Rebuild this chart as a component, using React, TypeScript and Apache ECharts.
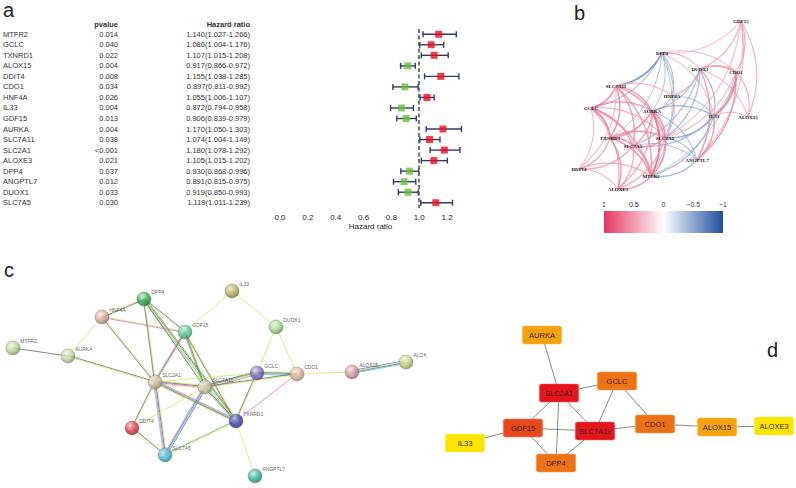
import React, { useEffect, useRef } from "react";
import * as echarts from "echarts";

// ---------- Panel a: forest plot ----------
const genes = ["MTFR2","GCLC","TXNRD1","ALOX15","DDIT4","CDO1","HNF4A","IL33","GDF15","AURKA","SLC7A11","SLC2A1","ALOXE3","DPP4","ANGPTL7","DUOX1","SLC7A5"];
const pvalues = ["0.014","0.040","0.022","0.004","0.008","0.034","0.026","0.004","0.013","0.004","0.038","<0.001","0.021","0.037","0.012","0.033","0.030"];
const hazardRatio = [1.140,1.086,1.107,0.917,1.155,0.897,1.055,0.872,0.906,1.170,1.074,1.180,1.105,0.930,0.891,0.919,1.119];
const hrLower = [1.027,1.004,1.015,0.866,1.038,0.811,1.006,0.794,0.839,1.050,1.004,1.078,1.015,0.868,0.815,0.850,1.011];
const hrUpper = [1.266,1.176,1.208,0.972,1.285,0.992,1.107,0.958,0.979,1.303,1.149,1.292,1.202,0.996,0.975,0.993,1.239];
const hrTicks = [0, 0.2, 0.4, 0.6, 0.8, 1.0, 1.2];

// ---------- Panel b: correlation network ----------
const corrNodes = ["GDF15","DPP4","DUOX1","CDO1","SLC7A11","HNF4A","GCLC","AURKA","IL33","ALOX15","TXNRD1","SLC2A1","SLC7A5","ANGPTL7","DDIT4","MTFR2","ALOXE3"];
const corrNodeX = [741,662,700,736,616,672,591,652,714,748,610,665,633,697,579,651,618];
const corrNodeY = [21,53,69,72,86,96,108,111,116,117,138,138,146,160,169,176,189];
const corrEdges: [string, string, number][] = [
  ["GDF15","DPP4",0.3],["GDF15","DUOX1",0.35],["GDF15","CDO1",0.4],["GDF15","ALOX15",0.35],["GDF15","IL33",0.3],["GDF15","SLC2A1",0.3],["GDF15","ANGPTL7",0.3],
  ["DPP4","SLC7A11",-0.6],["DPP4","GCLC",-0.3],["DPP4","HNF4A",-0.3],["DPP4","AURKA",-0.25],["DPP4","SLC2A1",-0.3],["DPP4","IL33",0.3],["DPP4","CDO1",0.3],["DPP4","DUOX1",0.3],["DPP4","TXNRD1",-0.25],["DPP4","MTFR2",-0.25],
  ["DUOX1","CDO1",0.5],["DUOX1","HNF4A",0.4],["DUOX1","IL33",-0.35],["DUOX1","SLC2A1",-0.35],["DUOX1","ANGPTL7",0.5],["DUOX1","ALOX15",0.3],["DUOX1","SLC7A5",-0.3],["DUOX1","AURKA",-0.3],
  ["CDO1","IL33",0.7],["CDO1","ALOX15",0.35],["CDO1","ANGPTL7",0.5],["CDO1","SLC2A1",0.3],["CDO1","MTFR2",-0.25],
  ["SLC7A11","GCLC",0.6],["SLC7A11","TXNRD1",0.55],["SLC7A11","AURKA",0.5],["SLC7A11","SLC2A1",0.5],["SLC7A11","SLC7A5",0.5],["SLC7A11","HNF4A",0.3],["SLC7A11","MTFR2",0.5],["SLC7A11","DDIT4",0.3],
  ["HNF4A","AURKA",0.35],["HNF4A","IL33",-0.3],["HNF4A","SLC2A1",0.3],
  ["GCLC","TXNRD1",0.7],["GCLC","AURKA",0.5],["GCLC","SLC7A5",0.5],["GCLC","DDIT4",0.3],["GCLC","ALOXE3",0.4],["GCLC","SLC2A1",0.4],["GCLC","MTFR2",0.45],
  ["AURKA","SLC2A1",0.6],["AURKA","MTFR2",0.8],["AURKA","TXNRD1",0.55],["AURKA","SLC7A5",0.5],["AURKA","IL33",-0.4],["AURKA","ANGPTL7",-0.3],["AURKA","ALOXE3",0.4],
  ["IL33","SLC2A1",-0.45],["IL33","ANGPTL7",0.5],["IL33","ALOX15",0.3],["IL33","MTFR2",-0.35],["IL33","SLC7A5",-0.3],
  ["TXNRD1","SLC7A5",0.6],["TXNRD1","SLC2A1",0.5],["TXNRD1","DDIT4",0.4],["TXNRD1","MTFR2",0.6],["TXNRD1","ALOXE3",0.5],
  ["SLC2A1","SLC7A5",0.55],["SLC2A1","MTFR2",0.6],["SLC2A1","ANGPTL7",-0.35],["SLC2A1","ALOXE3",0.4],
  ["SLC7A5","MTFR2",0.5],["SLC7A5","DDIT4",0.4],["SLC7A5","ALOXE3",0.4],["SLC7A5","ANGPTL7",-0.3],
  ["ANGPTL7","MTFR2",-0.35],["DDIT4","ALOXE3",0.35],["DDIT4","MTFR2",0.4],["MTFR2","ALOXE3",0.5],
];
const colorbarTicks = [1, 0.5, 0, -0.5, -1];

// ---------- Panel c: STRING PPI network ----------
const stringNodes = ["MTFR2","AURKA","HNF4A","DPP4","GDF15","IL33","DUOX1","GCLC","CDO1","ALOX15","ALOX","SLC2A1","SLC7A11","TXNRD1","DDIT4","SLC7A5","ANGPTL7"];
const stringNodeX = [13,68,102,144,185,232,276,257,297,352,406,155,205,236,132,165,255];
const stringNodeY = [348,356,317,299,332,291,327,373,374,372,362,382,387,421,428,455,476];
const stringNodeColor = ["#b5d88a","#bfd99a","#d6a89c","#2ea84a","#58c89c","#b2ab58","#9dd78c","#7468c4","#e0b292","#d6909c","#c4d07a","#d6c6a0","#dac8a6","#3636ae","#de2f3f","#48b6d6","#2cae9e"];
const evidenceCodes = ["y","k","p","g","b","c","l"];
const evidenceColors = ["#cde457","#555555","#d060c8","#48a860","#4a5ad2","#50c4d8","#a896dc"];
const stringEdges: [string, string, string][] = [
  ["MTFR2","AURKA","k"],["AURKA","HNF4A","y"],["AURKA","SLC2A1","ky"],
  ["HNF4A","DPP4","yk"],["HNF4A","GDF15","yp"],["HNF4A","SLC2A1","yk"],
  ["DPP4","GDF15","ky"],["DPP4","TXNRD1","gkyc"],["DPP4","SLC2A1","yk"],["DPP4","SLC7A11","yk"],
  ["GDF15","IL33","y"],["GDF15","SLC2A1","ykp"],["GDF15","SLC7A11","ykg"],["GDF15","TXNRD1","yk"],
  ["IL33","DUOX1","y"],["DUOX1","GCLC","y"],["DUOX1","CDO1","y"],
  ["GCLC","SLC7A11","pygk"],["GCLC","CDO1","ykgc"],["GCLC","TXNRD1","yk"],["GCLC","SLC2A1","y"],
  ["CDO1","SLC7A11","yk"],["CDO1","TXNRD1","p"],["CDO1","ALOX15","y"],["ALOX15","ALOX","bykc"],
  ["SLC2A1","SLC7A11","ykpy"],["SLC2A1","TXNRD1","pgky"],["SLC2A1","DDIT4","yk"],["SLC2A1","SLC7A5","ykpc"],
  ["SLC7A11","TXNRD1","ykg"],["SLC7A11","SLC7A5","bckl"],["SLC7A11","DDIT4","y"],
  ["DDIT4","SLC7A5","ky"],["SLC7A5","TXNRD1","gy"],["TXNRD1","ANGPTL7","y"],
];

// ---------- Panel d: hub gene network ----------
const hubNodes = ["AURKA","SLC2A1","GCLC","GDF15","SLC7A11","IL33","DPP4","CDO1","ALOX15","ALOXE3"];
const hubNodeX = [542,559,617,523,595,465,556,655,717,774];
const hubNodeY = [335,393,381,428,431,443,463,424,427,426];
const hubNodeColor = ["#f5a10e","#e5141c","#ee7314","#e8471c","#e5141c","#fde400","#ee7214","#ec7114","#f6a20e","#fde400"];
const hubEdges: [string, string][] = [
  ["AURKA","SLC2A1"],["SLC2A1","GCLC"],["SLC2A1","GDF15"],["SLC2A1","DPP4"],["SLC2A1","SLC7A11"],
  ["GDF15","IL33"],["GDF15","SLC7A11"],["GDF15","DPP4"],["DPP4","SLC7A11"],["SLC7A11","GCLC"],
  ["GCLC","CDO1"],["SLC7A11","CDO1"],["CDO1","ALOX15"],["ALOX15","ALOXE3"],
];

const SANS = "Liberation Sans, Arial, sans-serif";
const BOX = "path://M2,0H37Q39,0 39,2V16Q39,18 37,18H2Q0,18 0,16V2Q0,0 2,0Z";

function hexRgb(h: string) {
  const v = parseInt(h.slice(1), 16);
  return [(v >> 16) & 255, (v >> 8) & 255, v & 255];
}
function mix(a: string, b: string, t: number) {
  const A = hexRgb(a), B = hexRgb(b);
  const c = A.map((x, i) => Math.round(x + (B[i] - x) * t));
  return `rgb(${c[0]},${c[1]},${c[2]})`;
}
const RED = "#e4375f";
const BLUE = "#1f4e9f";
function corrColor(r: number) {
  return r >= 0 ? mix("#ffffff", RED, 0.25 + 0.75 * r) : mix("#ffffff", BLUE, 0.25 + 0.75 * -r);
}
function sphere(c: string) {
  return new echarts.graphic.RadialGradient(0.38, 0.32, 0.72, [
    { offset: 0, color: mix(c, "#ffffff", 0.75) },
    { offset: 0.55, color: c },
    { offset: 1, color: mix(c, "#000000", 0.35) },
  ]);
}

export default function App() {
  const ref = useRef<HTMLDivElement>(null);
  useEffect(() => {
    if (!ref.current) return;
    const chart = echarts.init(ref.current, null, { renderer: "svg" });
    const hrText = hazardRatio.map((v, i) => `${v.toFixed(3)}(${hrLower[i].toFixed(3)}-${hrUpper[i].toFixed(3)})`);
    const rowText = { fontSize: 7.5, color: "#333", fontFamily: SANS };

    const stringEdgeData: number[][] = [];
    stringEdges.forEach(([a, b, codes]) => {
      const si = stringNodes.indexOf(a), ti = stringNodes.indexOf(b);
      for (let j = 0; j < codes.length; j++) stringEdgeData.push([si, ti, j, codes.length, evidenceCodes.indexOf(codes[j])]);
    });

    const cbX0 = 604, cbW = 119;
    const option: any = {
      animation: false,
      backgroundColor: "#ffffff",
      grid: [
        { left: 280, top: 29, width: 181, height: 179 },
        { left: 0, top: 0, width: 796, height: 488 },
      ],
      xAxis: [
        {
          gridIndex: 0, type: "value", min: 0, max: 1.3, interval: 0.2,
          splitLine: { show: false },
          axisLine: { lineStyle: { color: "#222", width: 1 } },
          axisTick: { length: 4, customValues: hrTicks, lineStyle: { color: "#222" } },
          axisLabel: { customValues: hrTicks, formatter: (v: number) => v.toFixed(1), fontSize: 8, color: "#222", margin: 5, fontFamily: SANS },
          name: "Hazard ratio", nameLocation: "middle", nameGap: 14,
          nameTextStyle: { fontSize: 8, color: "#222", fontFamily: SANS },
        },
        { gridIndex: 1, type: "value", min: 0, max: 796, show: false },
      ],
      yAxis: [
        {
          gridIndex: 0, type: "category", data: genes, inverse: true,
          axisLine: { show: false }, axisTick: { show: false }, splitLine: { show: false },
          axisLabel: {
            interval: 0, align: "left", margin: 277,
            formatter: (v: string, i: number) => `{n|${v}}{p|${pvalues[i]}}{h|${hrText[i]}}`,
            rich: {
              n: { ...rowText, width: 82, align: "left" },
              p: { ...rowText, width: 33, align: "right" },
              h: { ...rowText, width: 132, align: "right" },
            },
          },
        },
        { gridIndex: 1, type: "value", min: 0, max: 488, inverse: true, show: false },
      ],
      series: [
        {
          type: "custom", xAxisIndex: 0, yAxisIndex: 0,
          data: genes.map((g, i) => [hrLower[i], i, hrUpper[i]]),
          encode: { x: [0, 2], y: 1 },
          renderItem: (params: any, api: any) => {
            const lo = api.coord([api.value(0), api.value(1)]);
            const hi = api.coord([api.value(2), api.value(1)]);
            const h = 3;
            const style = { stroke: "#2f3b6c", lineWidth: 1.4 };
            return {
              type: "group",
              children: [
                { type: "line", shape: { x1: lo[0], y1: lo[1], x2: hi[0], y2: hi[1] }, style },
                { type: "line", shape: { x1: lo[0], y1: lo[1] - h, x2: lo[0], y2: lo[1] + h }, style },
                { type: "line", shape: { x1: hi[0], y1: hi[1] - h, x2: hi[0], y2: hi[1] + h }, style },
              ],
            };
          },
          z: 2,
        },
        {
          type: "scatter", xAxisIndex: 0, yAxisIndex: 0, symbol: "rect", symbolSize: 7,
          data: hazardRatio.map((v, i) => ({ value: [v, i], itemStyle: { color: v > 1 ? "#ec0c1c" : "#6cbd3a" } })),
          z: 4,
          markLine: {
            silent: true, symbol: ["none", "none"], label: { show: false },
            lineStyle: { type: [4, 2.5], color: "#555", width: 1.6 },
            data: [{ xAxis: 1 }],
          },
        },
        // panel b
        {
          type: "graph", layout: "none", coordinateSystem: "cartesian2d", xAxisIndex: 1, yAxisIndex: 1,
          symbol: "circle", symbolSize: 1, itemStyle: { color: "rgba(0,0,0,0)" },
          label: { show: true, position: "inside", fontSize: 5, fontFamily: "Liberation Serif, serif", fontWeight: "bold", color: "#111" },
          data: corrNodes.map((n, i) => ({ name: n, value: [corrNodeX[i], corrNodeY[i]] })),
          links: corrEdges.map(([a, b, r]) => ({
            source: corrNodes.indexOf(a), target: corrNodes.indexOf(b),
            lineStyle: { color: corrColor(r), width: 0.5 + 2 * Math.abs(r), opacity: 0.75, curveness: 0.25 },
          })),
          lineStyle: { curveness: 0.25 },
          z: 2,
        },
        // panel c edges
        {
          type: "custom", xAxisIndex: 1, yAxisIndex: 1, data: stringEdgeData,
          renderItem: (params: any, api: any) => {
            const si = api.value(0), ti = api.value(1), j = api.value(2), n = api.value(3), k = api.value(4);
            const p1 = api.coord([stringNodeX[si], stringNodeY[si]]);
            const p2 = api.coord([stringNodeX[ti], stringNodeY[ti]]);
            const dx = p2[0] - p1[0], dy = p2[1] - p1[1];
            const L = Math.hypot(dx, dy) || 1;
            const nx = -dy / L, ny = dx / L;
            const off = (j - (n - 1) / 2) * 1.0;
            return {
              type: "line",
              shape: { x1: p1[0] + nx * off, y1: p1[1] + ny * off, x2: p2[0] + nx * off, y2: p2[1] + ny * off },
              style: { stroke: evidenceColors[k], lineWidth: 0.7 },
            };
          },
          z: 2,
        },
        // panel c nodes
        {
          type: "scatter", xAxisIndex: 1, yAxisIndex: 1, symbolSize: 14,
          data: stringNodes.map((n, i) => ({
            name: n, value: [stringNodeX[i], stringNodeY[i]],
            itemStyle: { color: sphere(stringNodeColor[i]), borderColor: "#777", borderWidth: 0.5 },
          })),
          label: { show: true, formatter: "{b}", position: "right", distance: 0, offset: [0, -7], fontSize: 5, color: "#333", fontFamily: SANS },
          z: 4,
        },
        // panel d
        {
          type: "graph", layout: "none", coordinateSystem: "cartesian2d", xAxisIndex: 1, yAxisIndex: 1,
          symbol: BOX, symbolSize: [39, 18], symbolKeepAspect: false,
          label: { show: true, position: "inside", fontSize: 7.5, color: "#3a2515", fontFamily: SANS },
          data: hubNodes.map((n, i) => ({
            name: n, value: [hubNodeX[i], hubNodeY[i]],
            itemStyle: { color: hubNodeColor[i], borderColor: mix(hubNodeColor[i], "#ffffff", 0.3), borderWidth: 0.8 },
          })),
          links: hubEdges.map(([a, b]) => ({ source: hubNodes.indexOf(a), target: hubNodes.indexOf(b) })),
          lineStyle: { color: "#6a6a6a", width: 0.8, opacity: 1, curveness: 0 },
          z: 3,
        },
      ],
      graphic: [
        { type: "text", x: 3, y: 10, style: { text: "a", font: `20px ${SANS}`, fill: "#222", verticalAlign: "middle" } },
        { type: "text", x: 574, y: 13, style: { text: "b", font: `20px ${SANS}`, fill: "#222", verticalAlign: "middle" } },
        { type: "text", x: 4, y: 270, style: { text: "c", font: `20px ${SANS}`, fill: "#222", verticalAlign: "middle" } },
        { type: "text", x: 767, y: 350, style: { text: "d", font: `20px ${SANS}`, fill: "#222", verticalAlign: "middle" } },
        { type: "text", x: 118, y: 24, style: { text: "pvalue", font: `bold 7.5px ${SANS}`, fill: "#333", align: "right", verticalAlign: "middle" } },
        { type: "text", x: 250, y: 24, style: { text: "Hazard ratio", font: `bold 7.5px ${SANS}`, fill: "#333", align: "right", verticalAlign: "middle" } },
        {
          type: "rect", shape: { x: cbX0, y: 211, width: cbW, height: 22 },
          style: {
            fill: new echarts.graphic.LinearGradient(0, 0, 1, 0, [
              { offset: 0, color: RED },
              { offset: 0.25, color: mix("#ffffff", RED, 0.5) },
              { offset: 0.5, color: "#ffffff" },
              { offset: 0.75, color: mix("#ffffff", BLUE, 0.5) },
              { offset: 1, color: BLUE },
            ]),
          },
        },
        ...colorbarTicks.map((t, i) => ({
          type: "text", x: cbX0 + (i * cbW) / (colorbarTicks.length - 1), y: 204,
          style: { text: t < 0 ? `−${Math.abs(t)}` : `${t}`, font: `7px ${SANS}`, fill: "#333", align: "center", verticalAlign: "middle" },
        })),
      ],
    };
    chart.setOption(option);
    return () => chart.dispose();
  }, []);
  return <div ref={ref} style={{ position: "fixed", left: 0, top: 0, width: 796, height: 488, background: "#fff" }} />;
}
